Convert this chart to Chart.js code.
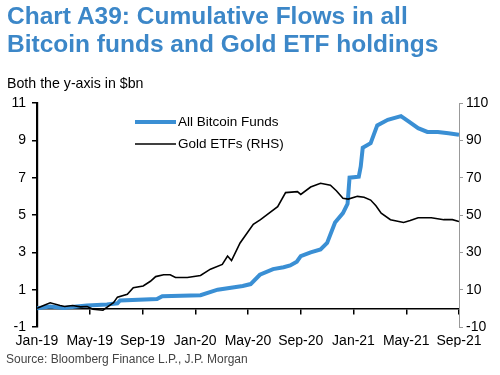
<!DOCTYPE html>
<html>
<head>
<meta charset="utf-8">
<script src="https://cdn.jsdelivr.net/npm/chart.js@4"></script>
<style>
  body { margin: 0; background: #fff; font-family: "Liberation Sans", Arial, sans-serif; }
  #wrap { position: relative; width: 500px; height: 375px; overflow: hidden; }
  canvas { position: absolute; left: 0; top: 0; }
  .t { position: absolute; white-space: nowrap; }
  #title { left: 7px; top: 2px; color: #3c87c8; font-weight: bold; font-size: 24.5px; line-height: 28px; }
  #sub { left: 7px; top: 75px; font-size: 14.2px; color: #000; }
  #src { left: 6px; top: 352px; font-size: 12px; color: #444; }
</style>
</head>
<body>
<div id="wrap">
  <canvas id="grafico" width="500" height="375"></canvas>
  <div class="t" id="title">Chart A39: Cumulative Flows in all<br>Bitcoin funds and Gold ETF holdings</div>
  <div class="t" id="sub">Both the y-axis in $bn</div>
  <div class="t" id="src">Source: Bloomberg Finance L.P., J.P. Morgan</div>
</div>
<script>
const tickLabels = ["Jan-19", "May-19", "Sep-19", "Jan-20", "May-20", "Sep-20", "Jan-21", "May-21", "Sep-21"];
const leftTicks = [-1, 1, 3, 5, 7, 9, 11];
const rightTicks = [-10, 10, 30, 50, 70, 90, 110];

const btcMonths = [0, 1.0, 2.0, 3.0, 3.8, 5.3, 6.1, 6.3, 9.1, 9.5, 12.4, 13.7, 15.6, 16.2, 16.9, 17.9, 18.7, 19.2, 19.7, 20.0,
  20.75, 21.5, 22.0, 22.6, 23.2, 23.55, 23.7, 24.4, 24.55, 24.7, 25.3, 25.8, 26.6, 27.6, 28.2, 28.9, 29.6, 30.4, 31.2, 32];
const btcValues = [0, 0.1, 0.02, 0.1, 0.15, 0.2, 0.27, 0.42, 0.5, 0.65, 0.7, 1.0, 1.2, 1.3, 1.8, 2.1, 2.2, 2.3, 2.5, 2.8,
  3.0, 3.15, 3.5, 4.6, 5.1, 5.6, 7.0, 7.05, 7.6, 8.6, 8.85, 9.8, 10.1, 10.3, 10.0, 9.65, 9.45, 9.45, 9.38, 9.3];

const goldMonths = [0, 0.5, 1.0, 1.75, 2.1, 2.7, 3.3, 3.8, 4.25, 5.0, 5.4, 5.8, 6.1, 6.85, 7.3, 8.05, 8.6, 9.0, 9.6, 10.1,
  10.5, 11.4, 12.4, 13.15, 14.05, 14.45, 14.75, 15.4, 16.4, 16.95, 17.6, 18.25, 18.85, 19.75, 20.0, 20.75, 21.5, 22.25,
  22.7, 23.2, 23.6, 24.3, 24.8, 25.3, 25.7, 26.1, 26.8, 27.8, 28.3, 28.9, 29.9, 30.85, 31.5, 32];
const goldValues = [0, 1.5, 3, 1.5, 1, 1.5, 0.8, 1, -0.5, -1, 1, 3, 6, 7.5, 11, 12, 14.5, 17, 18, 18,
  16.5, 16.5, 17.6, 21, 23.5, 28, 25.6, 35, 45, 47.5, 51, 54.5, 62, 62.5, 61, 65, 67, 66,
  63, 59, 58.5, 60, 59.5, 58, 55, 51, 47.5, 46, 47, 48.5, 48.5, 47.5, 47.5, 46.5];

const corBtc = "#3a8fd4";
const corOuro = "#000";

Chart.defaults.font.family = '"Liberation Sans", Arial, sans-serif';
Chart.defaults.color = "#000";

function pares(xs, ys) {
  return xs.map((x, i) => ({ x: x, y: ys[i] }));
}

// legenda desenhada dentro da 치rea do gr치fico
const legendaPlugin = {
  id: "legendaInterna",
  afterDraw(chart) {
    const { ctx, chartArea } = chart;
    ctx.save();
    ctx.font = '13.5px "Liberation Sans", Arial, sans-serif';
    ctx.textBaseline = "middle";
    chart.data.datasets.forEach((ds, i) => {
      const y = chartArea.top + 19 + i * 22;
      const x0 = chartArea.left + 98;
      ctx.strokeStyle = ds.borderColor;
      ctx.lineWidth = ds.borderWidth;
      ctx.beginPath();
      ctx.moveTo(x0, y);
      ctx.lineTo(x0 + 41, y);
      ctx.stroke();
      ctx.fillStyle = "#000";
      ctx.fillText(ds.label, x0 + 43, y);
    });
    ctx.restore();
  },
};

const ticksDe = (arr) => (scale) => { scale.ticks = arr.map((v) => ({ value: v })); };
const xTicks = tickLabels.map((_, i) => i * 4);

new Chart(document.getElementById("grafico"), {
  type: "line",
  data: {
    datasets: [
      {
        label: "All Bitcoin Funds",
        data: pares(btcMonths, btcValues),
        borderColor: corBtc,
        borderWidth: 4,
        pointRadius: 0,
        tension: 0,
        xAxisID: "x",
        yAxisID: "y",
        order: 2,
      },
      {
        label: "Gold ETFs (RHS)",
        data: pares(goldMonths, goldValues),
        borderColor: corOuro,
        borderWidth: 1.6,
        pointRadius: 0,
        tension: 0,
        xAxisID: "x",
        yAxisID: "y2",
        order: 1,
      },
    ],
  },
  options: {
    responsive: false,
    animation: false,
    layout: { padding: { top: 103, bottom: 28, left: 0, right: 0 } },
    plugins: { legend: { display: false }, tooltip: { enabled: false } },
    scales: {
      x: {
        type: "linear",
        position: "bottom",
        min: 0,
        max: 32,
        afterBuildTicks: ticksDe(xTicks),
        afterFit: (s) => { s.height = 20; },
        ticks: { callback: (v) => tickLabels[v / 4], font: { size: 14 }, padding: 6, maxRotation: 0, autoSkip: false },
        grid: { display: false, drawTicks: false, tickLength: 0 },
        border: { display: false },
      },
      x0: {
        type: "linear",
        position: { y: 0 },
        min: 0,
        max: 32,
        afterBuildTicks: ticksDe(xTicks),
        ticks: { display: false },
        grid: { drawOnChartArea: false, drawTicks: true, tickLength: 5, color: "#000", lineWidth: 1.5 },
        border: { color: "#000", width: 1.5 },
      },
      y: {
        position: "left",
        min: -1,
        max: 11,
        afterBuildTicks: ticksDe(leftTicks),
        afterFit: (s) => { s.width = 37; },
        ticks: { font: { size: 14 }, padding: 6 },
        grid: { drawOnChartArea: false, tickLength: 5, color: "#000", lineWidth: 1.5 },
        border: { color: "#000", width: 2.2 },
      },
      y2: {
        position: "right",
        min: -10,
        max: 110,
        afterBuildTicks: ticksDe(rightTicks),
        afterFit: (s) => { s.width = 41; },
        ticks: { font: { size: 14 }, padding: 3 },
        grid: { drawOnChartArea: false, tickLength: 4, color: "#999", lineWidth: 1 },
        border: { color: "#999", width: 1 },
      },
    },
  },
  plugins: [legendaPlugin],
});
</script>
</body>
</html>
